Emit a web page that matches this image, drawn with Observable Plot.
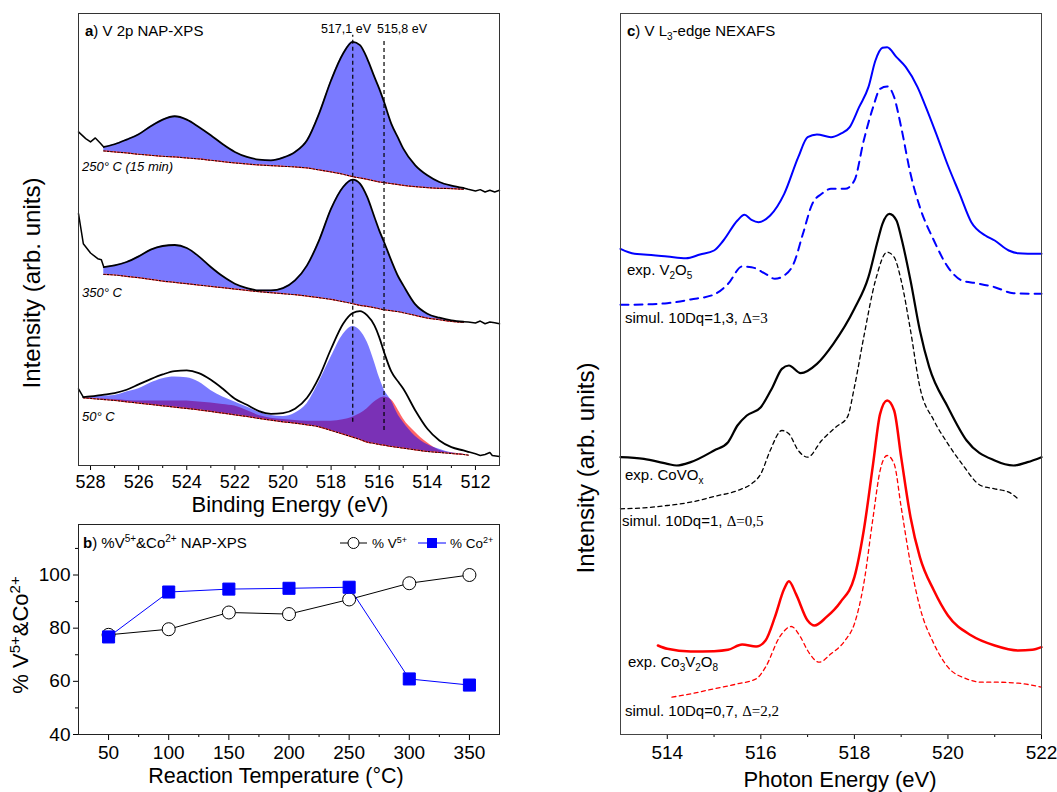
<!DOCTYPE html>
<html><head><meta charset="utf-8">
<script src="https://cdn.jsdelivr.net/npm/d3@7"></script>
<script src="https://cdn.jsdelivr.net/npm/@observablehq/plot@0.6"></script>
<style>
body{margin:0;background:#fff;}
#wrap{position:relative;width:1057px;height:792px;overflow:hidden;background:#fff;}
</style></head><body><div id="wrap"></div>
<script>
// ---------- Panel a: V 2p NAP-XPS (binding energy, eV / intensity, arb. units) ----------
const beFit = [527.45,527,526.5,526,525.5,525,524.5,524,523.5,523,522.5,522,521.5,521,520.5,520,519.5,519,518.5,518,517.5,517.1,516.8,516.5,516.2,516,515.8,515.5,515.2,515,514.5,514,513.5,513,512.5];
const env250 = [955,963,977,993,1017,1037,1047,1037,1015,990,963,940,925,917,915,923,940,975,1055,1155,1235,1270,1260,1220,1165,1130,1090,1025,980,950,900,870,850,839,832];
const base250 = [943,940,937,933,930,927,925,922,919,915,911,907,904,901,899,897,895,892,886,880,873,866,862,858,853,850,848,845,842,840,836,833,831,830,828];
const env350 = [595,600,610,627,647,658,661,652,627,595,567,545,532,525,525,532,555,600,675,770,835,857,845,805,745,705,670,615,565,540,483,455,443,435,431];
const base350 = [573,571,567,563,558,553,549,545,541,537,533,529,525,521,518,515,512,508,503,498,491,485,480,477,473,470,467,464,461,458,450,442,437,432,429];
const beFit50 = [528.3,528,527.5,527,526.5,526,525.5,525,524.5,524,523.5,523,522.5,522,521.5,521,520.5,520,519.5,519,518.5,518,517.5,517.1,516.8,516.5,516.2,516,515.8,515.5,515.2,515,514.5,514,513.5,513,512.5,512.3];
const env50 = [205,207,212,217,227,243,259,273,283,285,277,257,230,200,182,163,155,157,170,203,265,350,425,457,463,450,420,385,340,282,250,230,165,110,75,55,45,41];
const base50 = [203,201,198,195,191,187,183,179,175,171,167,162,157,152,147,141,136,131,127,122,116,105,94,85,78,70,66,63,61,57,54,52,47,42,39,36,33,31];
const v5comp50 = [203,206,208,210,220,230,247,260,265,263,250,225,205,190,175,160,150,147,157,185,250,325,393,417,405,370,310,265,228,195,150,130,88,63,49,38,34,31];
const v4comp50 = [203,201,199,197,195,193,193,193,193,193,190,187,183,178,165,150,142,138,135,133,133,133,137,145,155,170,190,200,205,197,165,140,100,68,46,38,34,31];
// raw spectrum ends outside the fitted range
const rawBeL = [528.5,528.2,528,527.8,527.6,527.45];
const raw250L = [1000,980,970,982,967,955];
const rawBeL350 = [528.5,528.3,528,527.7,527.55,527.45];
const raw350L = [755,665,637,620,617,595];
const rawBeR = [512.5,512.3,512,511.8,511.6,511.4,511.2,511];
const raw250R = [832,828,823,827,820,825,820,825];
const raw350R = [431,430,427,433,425,430,428,425];
const rawBeL50 = [528.5,528.3];
const raw50L = [230,205];
const rawBeR50 = [512.3,512,511.8,511.6,511.4,511.3,511];
const raw50R = [41,35,30,33,39,30,27];
const peakBE = [517.1,515.8];
const peakLineTop = [1290,1280];
const peakLineBottom = [130,105];
const aMajor = [528,526,524,522,520,518,516,514,512];
const aMinor = [527,525,523,521,519,517,515,513];

// ---------- Panel b: %V5+ & %Co2+ vs reaction temperature ----------
const temps = [50,100,150,200,250,300,350];
const pctV5 = [77.5,79.6,85.9,85.3,90.8,96.9,100];
const pctCo2 = [76.7,93.6,94.7,95,95.4,60.9,58.6];
const bxMajor = [50,100,150,200,250,300,350];
const bxMinor = [75,125,175,225,275,325];
const byMajor = [40,60,80,100];
const byMinor = [50,70,90,110];

// ---------- Panel c: V L3-edge NEXAFS (photon energy, eV / intensity, arb. units) ----------
const v2o5ExpE = [513,513.3,513.5,514,514.4,514.7,515,515.2,515.5,515.65,515.8,515.95,516.2,516.5,516.8,517,517.2,517.5,517.7,517.9,518.1,518.3,518.45,518.6,518.7,518.9,519.1,519.35,519.5,519.75,520,520.25,520.5,520.8,521,521.3,521.5,522];
const v2o5ExpI = [1457,1442,1440,1434,1429,1440,1452,1482,1542,1559,1544,1537,1557,1622,1732,1792,1800,1792,1802,1822,1882,1942,2022,2060,2062,2032,2002,1942,1892,1802,1707,1622,1537,1497,1482,1452,1444,1442];
const v2o5SimE = [513,513.5,514,514.5,515,515.3,515.6,515.8,516.1,516.3,516.5,516.7,516.9,517.1,517.3,517.5,517.8,518,518.2,518.4,518.55,518.7,518.85,519,519.2,519.4,519.7,520,520.3,520.6,521,521.4,522];
const v2o5SimI = [1289,1290,1294,1305,1320,1352,1404,1402,1382,1367,1377,1412,1502,1592,1622,1637,1637,1662,1782,1882,1937,1944,1912,1822,1682,1582,1482,1402,1362,1354,1342,1324,1322];
const covoExpE = [513,513.5,514,514.2,514.5,515,515.3,515.5,515.7,516,516.25,516.45,516.6,516.85,517.2,517.55,518,518.3,518.5,518.6,518.75,518.9,519,519.2,519.4,519.6,520,520.4,521,521.4,521.7,522];
const covoExpI = [832,827,812,807,817,852,877,927,957,982,1042,1097,1107,1084,1112,1172,1277,1372,1482,1532,1562,1542,1492,1362,1212,1102,982,882,822,807,817,832];
const covoSimE = [513,513.5,514,514.5,515,515.5,515.8,516,516.2,516.45,516.6,516.8,517,517.3,517.6,517.85,518,518.2,518.45,518.7,518.85,519,519.2,519.4,519.7,520,520.3,520.7,521,521.3,521.5];
const covoSimI = [677,680,687,697,714,732,752,782,852,912,902,852,832,882,922,952,1042,1192,1362,1447,1432,1362,1212,1042,942,872,812,747,737,727,707];
const cvoExpE = [513.8,514,514.5,515,515.3,515.6,515.9,516.1,516.3,516.5,516.6,516.75,517,517.15,517.4,517.7,518,518.2,518.4,518.55,518.7,518.85,519,519.2,519.4,519.7,520,520.5,521,521.5,521.8,522];
const cvoExpI = [267,257,249,250,254,270,264,282,352,437,460,422,342,327,352,397,472,612,812,962,1002,972,832,652,532,432,357,297,267,252,254,262];
const cvoSimE = [514.1,514.5,515,515.5,515.9,516.1,516.4,516.65,516.85,517,517.25,517.5,517.8,518,518.2,518.4,518.55,518.7,518.85,519,519.2,519.4,519.7,520,520.4,520.7,521,521.5,522];
const cvoSimI = [112,122,137,152,167,202,292,324,292,252,217,242,282,332,452,652,792,837,812,682,512,382,272,202,167,157,157,154,142];
const cMajor = [514,516,518,520,522];
const cMinor = [515,517,519,521];

// ---------- helpers ----------
const FONT = '"Liberation Sans", Arial, Helvetica, sans-serif';
const wrap = document.getElementById("wrap");
const rows = (xs, cols) => xs.map((x, i) => { const r = {x}; for (const k in cols) r[k] = cols[k][i]; return r; });
const style = {fontFamily: FONT, color: "black", background: "transparent", overflow: "visible"};
function place(el, left, top) { el.style.position = "absolute"; el.style.left = left + "px"; el.style.top = top + "px"; el.style.maxWidth = "none"; wrap.appendChild(el); }
const cv = "monotone-x";
const BLUEFILL = "#7a7aff";

// ---------- Panel a ----------
const s250 = rows(beFit, {env: env250, base: base250});
const s350 = rows(beFit, {env: env350, base: base350});
const s50 = rows(beFit50, {env: env50, base: base50, v5: v5comp50, v4: v4comp50});
const peaks = rows(peakBE, {top: peakLineTop, bottom: peakLineBottom});
function baseMarks(data) {
  return [
    Plot.line(data, {x: "x", y: "base", stroke: "#ff2a2a", strokeWidth: 1.2, curve: cv}),
    Plot.line(data, {x: "x", y: "base", stroke: "black", strokeWidth: 1, strokeDasharray: "1.5,2", curve: cv})
  ];
}
const pa = Plot.plot({
  width: 520, height: 515, marginLeft: 78, marginRight: 21, marginTop: 13, marginBottom: 50,
  x: {domain: [528.5, 511], label: null},
  y: {domain: [0, 1355], axis: null},
  style,
  marks: [
    Plot.areaY(s250, {x: "x", y1: "base", y2: "env", fill: BLUEFILL, curve: cv}),
    ...baseMarks(s250),
    Plot.line(s250, {x: "x", y: "env", stroke: "black", strokeWidth: 1.8, curve: cv}),
    Plot.line(rows(rawBeL, {y: raw250L}), {x: "x", y: "y", stroke: "black", strokeWidth: 1.5}),
    Plot.line(rows(rawBeR, {y: raw250R}), {x: "x", y: "y", stroke: "black", strokeWidth: 1.5}),

    Plot.areaY(s350, {x: "x", y1: "base", y2: "env", fill: BLUEFILL, curve: cv}),
    ...baseMarks(s350),
    Plot.line(s350, {x: "x", y: "env", stroke: "black", strokeWidth: 1.8, curve: cv}),
    Plot.line(rows(rawBeL350, {y: raw350L}), {x: "x", y: "y", stroke: "black", strokeWidth: 1.5}),
    Plot.line(rows(rawBeR, {y: raw350R}), {x: "x", y: "y", stroke: "black", strokeWidth: 1.5}),

    Plot.areaY(s50, {x: "x", y1: "base", y2: "v4", fill: "#ff0000", fillOpacity: 0.6, curve: cv}),
    Plot.areaY(s50, {x: "x", y1: "base", y2: "v5", fill: "#0000ff", fillOpacity: 0.52, curve: cv}),
    ...baseMarks(s50),
    Plot.line(s50, {x: "x", y: "env", stroke: "black", strokeWidth: 1.8, curve: cv}),
    Plot.line(rows(rawBeL50, {y: raw50L}), {x: "x", y: "y", stroke: "black", strokeWidth: 1.5}),
    Plot.line(rows(rawBeR50, {y: raw50R}), {x: "x", y: "y", stroke: "black", strokeWidth: 1.5}),

    Plot.ruleX(peaks, {x: "x", y1: "bottom", y2: "top", stroke: "black", strokeWidth: 1.2, strokeDasharray: "4,3"}),
    Plot.axisX(aMajor, {tickSize: 5, tickPadding: 5, fontSize: 18, label: null}),
    Plot.axisX(aMinor, {tickSize: 3, tickFormat: () => "", label: null}),
    Plot.frame({stroke: "#333"})
  ]
});
place(pa, 0, 0);

// ---------- Panel b ----------
const tb = rows(temps, {v: pctV5, co: pctCo2});
const pb = Plot.plot({
  width: 520, height: 290, marginLeft: 78, marginRight: 21, marginTop: 19, marginBottom: 61,
  x: {domain: [25, 375], label: null},
  y: {domain: [40, 119], label: null},
  style,
  marks: [
    Plot.line(tb, {x: "x", y: "v", stroke: "black", strokeWidth: 1}),
    Plot.line(tb, {x: "x", y: "co", stroke: "#0000ff", strokeWidth: 1}),
    Plot.dot(tb, {x: "x", y: "v", r: 6.5, fill: "white", stroke: "black", strokeWidth: 1}),
    Plot.dot(tb, {x: "x", y: "co", r: 6.8, symbol: "square", fill: "#0000ff", stroke: "#0000ff", strokeWidth: 1}),
    Plot.axisX(bxMajor, {tickSize: 6, tickPadding: 5, fontSize: 19, label: null}),
    Plot.axisX(bxMinor, {tickSize: 3, tickFormat: () => "", label: null}),
    Plot.axisY(byMajor, {tickSize: 5, tickPadding: 3, fontSize: 19, label: null}),
    Plot.axisY(byMinor, {tickSize: 3, tickFormat: () => "", label: null}),
    Plot.frame({stroke: "#222"})
  ]
});
place(pb, 0, 505);

// ---------- Panel c ----------
const pc = Plot.plot({
  width: 517, height: 792, marginLeft: 80, marginRight: 16, marginTop: 13, marginBottom: 58,
  x: {domain: [513, 522], label: null},
  y: {domain: [0, 2163], axis: null},
  style,
  marks: [
    Plot.line(rows(v2o5SimE, {y: v2o5SimI}), {x: "x", y: "y", stroke: "#0000ff", strokeWidth: 2, strokeDasharray: "8,6", curve: cv}),
    Plot.line(rows(v2o5ExpE, {y: v2o5ExpI}), {x: "x", y: "y", stroke: "#0000ff", strokeWidth: 2, curve: cv}),
    Plot.line(rows(covoSimE, {y: covoSimI}), {x: "x", y: "y", stroke: "black", strokeWidth: 1.3, strokeDasharray: "4,3.5", curve: cv}),
    Plot.line(rows(covoExpE, {y: covoExpI}), {x: "x", y: "y", stroke: "black", strokeWidth: 2.2, curve: cv}),
    Plot.line(rows(cvoSimE, {y: cvoSimI}), {x: "x", y: "y", stroke: "#ff0000", strokeWidth: 1.3, strokeDasharray: "4,3.5", curve: cv}),
    Plot.line(rows(cvoExpE, {y: cvoExpI}), {x: "x", y: "y", stroke: "#ff0000", strokeWidth: 2.5, curve: cv}),
    Plot.axisX(cMajor, {tickSize: 5, tickPadding: 6, fontSize: 19, label: null}),
    Plot.axisX(cMinor, {tickSize: 3, tickFormat: () => "", label: null}),
    Plot.frame({stroke: "#444"})
  ]
});
place(pc, 540, 0);

// ---------- Text overlay (titles, labels, legend) ----------
const SERIF = '"Liberation Serif", "Times New Roman", serif';
const ov = `
<svg xmlns="http://www.w3.org/2000/svg" width="1057" height="792" style="position:absolute;left:0;top:0;pointer-events:none" font-family='${FONT}' fill="black">
  <text x="85" y="36" font-size="15"><tspan font-weight="bold">a</tspan>) V 2p NAP-XPS</text>
  <text x="346" y="33" font-size="12.5" text-anchor="middle">517,1 eV</text>
  <text x="377" y="33" font-size="12.5">515,8 eV</text>
  <text x="82" y="171" font-size="13" font-style="italic">250° C (15 min)</text>
  <text x="82" y="297" font-size="13" font-style="italic">350° C</text>
  <text x="82" y="421" font-size="13" font-style="italic">50° C</text>
  <text x="290" y="512" font-size="22" text-anchor="middle">Binding Energy (eV)</text>
  <text transform="translate(40,283) rotate(-90)" font-size="24" text-anchor="middle">Intensity (arb. units)</text>

  <text x="83" y="548" font-size="15"><tspan font-weight="bold">b</tspan>) %V<tspan font-size="10" dy="-6">5+</tspan><tspan dy="6">&amp;Co</tspan><tspan font-size="10" dy="-6">2+</tspan><tspan dy="6"> NAP-XPS</tspan></text>
  <line x1="340" y1="543" x2="367" y2="543" stroke="black" stroke-width="1"/>
  <circle cx="353.5" cy="543" r="5.5" fill="white" stroke="black" stroke-width="1"/>
  <text x="372" y="548" font-size="13.5">% V<tspan font-size="9" dy="-5">5+</tspan></text>
  <line x1="418" y1="543" x2="446" y2="543" stroke="#0000ff" stroke-width="1"/>
  <rect x="427" y="538" width="10" height="10" fill="#0000ff"/>
  <text x="450" y="548" font-size="13.5">% Co<tspan font-size="9" dy="-5">2+</tspan></text>
  <text x="276" y="783" font-size="21.5" text-anchor="middle">Reaction Temperature (°C)</text>
  <text transform="translate(28,635) rotate(-90)" font-size="22" text-anchor="middle">% V<tspan font-size="15" dy="-8">5+</tspan><tspan dy="8">&amp;Co</tspan><tspan font-size="15" dy="-8">2+</tspan></text>

  <text x="627" y="36" font-size="15"><tspan font-weight="bold">c</tspan>) V L<tspan font-size="10" dy="4">3</tspan><tspan dy="-4">-edge NEXAFS</tspan></text>
  <text x="627" y="275" font-size="15">exp. V<tspan font-size="10" dy="4">2</tspan><tspan dy="-4">O</tspan><tspan font-size="10" dy="4">5</tspan></text>
  <text x="625" y="323" font-size="15">simul. 10Dq=1,3, <tspan font-family='${SERIF}'>Δ=3</tspan></text>
  <text x="625" y="480" font-size="15">exp. CoVO<tspan font-size="10" dy="4">x</tspan></text>
  <text x="622" y="526" font-size="15">simul. 10Dq=1, <tspan font-family='${SERIF}'>Δ=0,5</tspan></text>
  <text x="628" y="667" font-size="15">exp. Co<tspan font-size="10" dy="4">3</tspan><tspan dy="-4">V</tspan><tspan font-size="10" dy="4">2</tspan><tspan dy="-4">O</tspan><tspan font-size="10" dy="4">8</tspan></text>
  <text x="625" y="716" font-size="15">simul. 10Dq=0,7, <tspan font-family='${SERIF}'>Δ=2,2</tspan></text>
  <text x="840" y="787" font-size="22" text-anchor="middle">Photon Energy (eV)</text>
  <text transform="translate(594,468) rotate(-90)" font-size="24" text-anchor="middle">Intensity (arb. units)</text>
</svg>`;
wrap.insertAdjacentHTML("beforeend", ov);
</script></body></html>
